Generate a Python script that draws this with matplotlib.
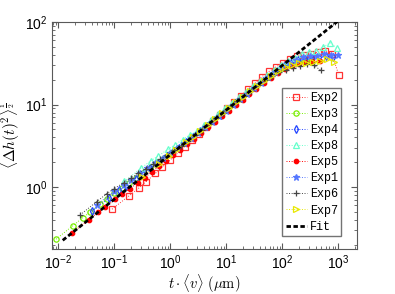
import numpy as np
import matplotlib
matplotlib.use("Agg")
import matplotlib.pyplot as plt

plt.rcParams['font.family'] = ['Liberation Sans', 'DejaVu Sans']

# lag in frames, shared by all experiments
lag = [1, 2, 3, 4, 6, 8, 11, 15, 20, 27, 36, 48, 64, 85, 113, 150, 200, 270,
       360, 480, 640, 850, 1130, 1500, 2000, 2700, 3600, 4800, 6400, 8500,
       11300, 15000, 20000, 27000, 36000]

# t*<v> per frame for each experiment (um)
step_exp2 = 0.091
step_exp3 = 0.0091
step_exp4 = 0.040
step_exp8 = 0.151
step_exp5 = 0.0174
step_exp1 = 0.049
step_exp6 = 0.0245
step_exp7 = 0.316

exp2 = [0.54, 0.78, 0.97, 1.15, 1.47, 1.76, 2.14, 2.59, 3.09, 3.72, 4.45, 5.32,
        6.34, 7.55, 9.0, 10.7, 12.8, 15.3, 18.2, 21.8, 25.2, 28.5, 32.0, 35.5,
        38.4, 40.4, 41.4, 43.0, 45.0, 41.0, 23.0]
exp3 = [0.234, 0.341, 0.425, 0.495, 0.618, 0.721, 0.837, 0.977, 1.13, 1.30,
        1.48, 1.69, 1.95, 2.25, 2.56, 2.99, 3.41, 4.01, 4.69, 5.47, 6.40, 7.45,
        8.69, 10.1, 11.8, 13.9, 16.2, 18.8, 21.8, 24.8, 27.9, 30.5, 32.6, 33.7,
        34.4]
exp4 = [0.508, 0.738, 0.912, 1.045, 1.27, 1.46, 1.70, 1.98, 2.27, 2.62, 3.01,
        3.50, 4.08, 4.76, 5.56, 6.47, 7.56, 8.89, 10.4, 12.1, 14.2, 16.5, 19.1,
        22.1, 25.5, 29.0, 32.1, 34.6, 36.1, 37.1, 37.8, 39.0, 37.5]
exp8 = [1.17, 1.70, 2.09, 2.38, 2.86, 3.26, 3.76, 4.33, 4.83, 5.65, 6.59, 7.70,
        9.00, 10.5, 12.2, 14.3, 16.6, 19.5, 22.6, 26.2, 30.1, 33.8, 37.0, 41.5,
        43.5, 44.0, 50.0, 56.0, 48.0]
exp5 = [0.277, 0.402, 0.500, 0.578, 0.708, 0.820, 0.962, 1.12, 1.30, 1.53,
        1.79, 2.09, 2.44, 2.84, 3.32, 3.86, 4.51, 5.31, 6.20, 7.24, 8.46, 9.86,
        11.5, 13.4, 15.6, 18.2, 20.9, 24.0, 27.0, 29.5, 31.3, 32.5, 33.3, 33.6]
exp1 = [0.610, 0.886, 1.07, 1.22, 1.48, 1.69, 1.95, 2.25, 2.58, 2.96, 3.38,
        3.92, 4.57, 5.33, 6.22, 7.24, 8.46, 9.95, 11.6, 13.6, 15.8, 18.4, 21.4,
        24.7, 28.3, 31.9, 34.8, 37.4, 38.4, 39.3, 40.5, 39.5, 40.3]
exp6 = [0.460, 0.669, 0.833, 0.951, 1.13, 1.28, 1.47, 1.68, 1.91, 2.17, 2.45,
        2.78, 3.15, 3.67, 4.28, 4.99, 5.83, 6.85, 8.00, 9.35, 10.9, 12.7, 14.8,
        17.1, 19.7, 22.4, 24.8, 26.0, 28.0, 29.5, 31.0, 30.0, 26.0]
exp7 = [1.32, 1.93, 2.40, 2.80, 3.48, 4.07, 4.83, 5.71, 6.68, 7.85, 9.17, 10.7,
        12.5, 14.5, 16.9, 19.5, 22.5, 25.5, 28.3, 30.2, 31.6, 32.2, 32.5, 33.5,
        35.5, 33.0]

# power law fit  <dh^2>^1/2 = a * x^b
fit_a = 2.47
fit_b = 0.54
fit_range = [0.012, 1000]

fig = plt.figure(figsize=(3.95, 2.94), dpi=100)
ax = fig.add_axes([0.132, 0.153, 0.772, 0.772])

series = [
    ("Exp2", step_exp2, exp2, "#ff3333", "s", "none"),
    ("Exp3", step_exp3, exp3, "#77ee00", "o", "none"),
    ("Exp4", step_exp4, exp4, "#2244ff", "d", "none"),
    ("Exp8", step_exp8, exp8, "#66ffcc", "^", "none"),
    ("Exp5", step_exp5, exp5, "#ff0000", "o", "#ff0000"),
    ("Exp1", step_exp1, exp1, "#5577ff", "*", "#5577ff"),
    ("Exp6", step_exp6, exp6, "#444444", "+", "#444444"),
    ("Exp7", step_exp7, exp7, "#e8e800", ">", "none"),
]

for name, step, y, col, mk, fc in series:
    x = np.array(lag[:len(y)]) * step
    ms = 3.8
    if mk == "*":
        ms = 5
    if mk == "o" and fc != "none":
        ms = 3.2
    ax.plot(x, y, linestyle=":", linewidth=0.7, color=col, marker=mk,
            markersize=ms, markerfacecolor=fc, markeredgecolor=col,
            markeredgewidth=0.9, label=name)

xf = np.logspace(np.log10(fit_range[0]), np.log10(fit_range[1]), 200)
ax.plot(xf, fit_a * xf ** fit_b, color="black", linewidth=2,
        linestyle=(0, (1.6, 0.9)), label="Fit", zorder=5)

ax.set_xscale("log")
ax.set_yscale("log")
ax.set_xlim(10 ** -2.11, 10 ** 3.34)
ax.set_ylim(10 ** -0.75, 100)

for s in ax.spines.values():
    s.set_color("0.35")
ax.tick_params(which="both", direction="in", top=True, right=True,
               color="0.35", labelsize=10)
ax.tick_params(which="major", length=4)
ax.tick_params(which="minor", length=2)

ax.set_xlabel(r"$t \cdot \langle v \rangle\ (\mu\mathrm{m})$", fontsize=10.5,
              math_fontfamily="cm", labelpad=0)
ax.set_ylabel(r"$\langle \Delta h(t)^2 \rangle^{\frac{1}{2}}$", fontsize=11,
              math_fontfamily="cm", labelpad=2)

leg = ax.legend(loc="upper left", bbox_to_anchor=(0.754, 0.709),
                borderaxespad=0, prop={"family": "Liberation Mono", "size": 8.5},
                handlelength=1.8, handletextpad=0.25, labelspacing=0.35,
                borderpad=0.3, fancybox=False, framealpha=1)
leg.get_frame().set_edgecolor("0.45")
leg.get_frame().set_linewidth(1)

fig.savefig("out.png", dpi=100)
